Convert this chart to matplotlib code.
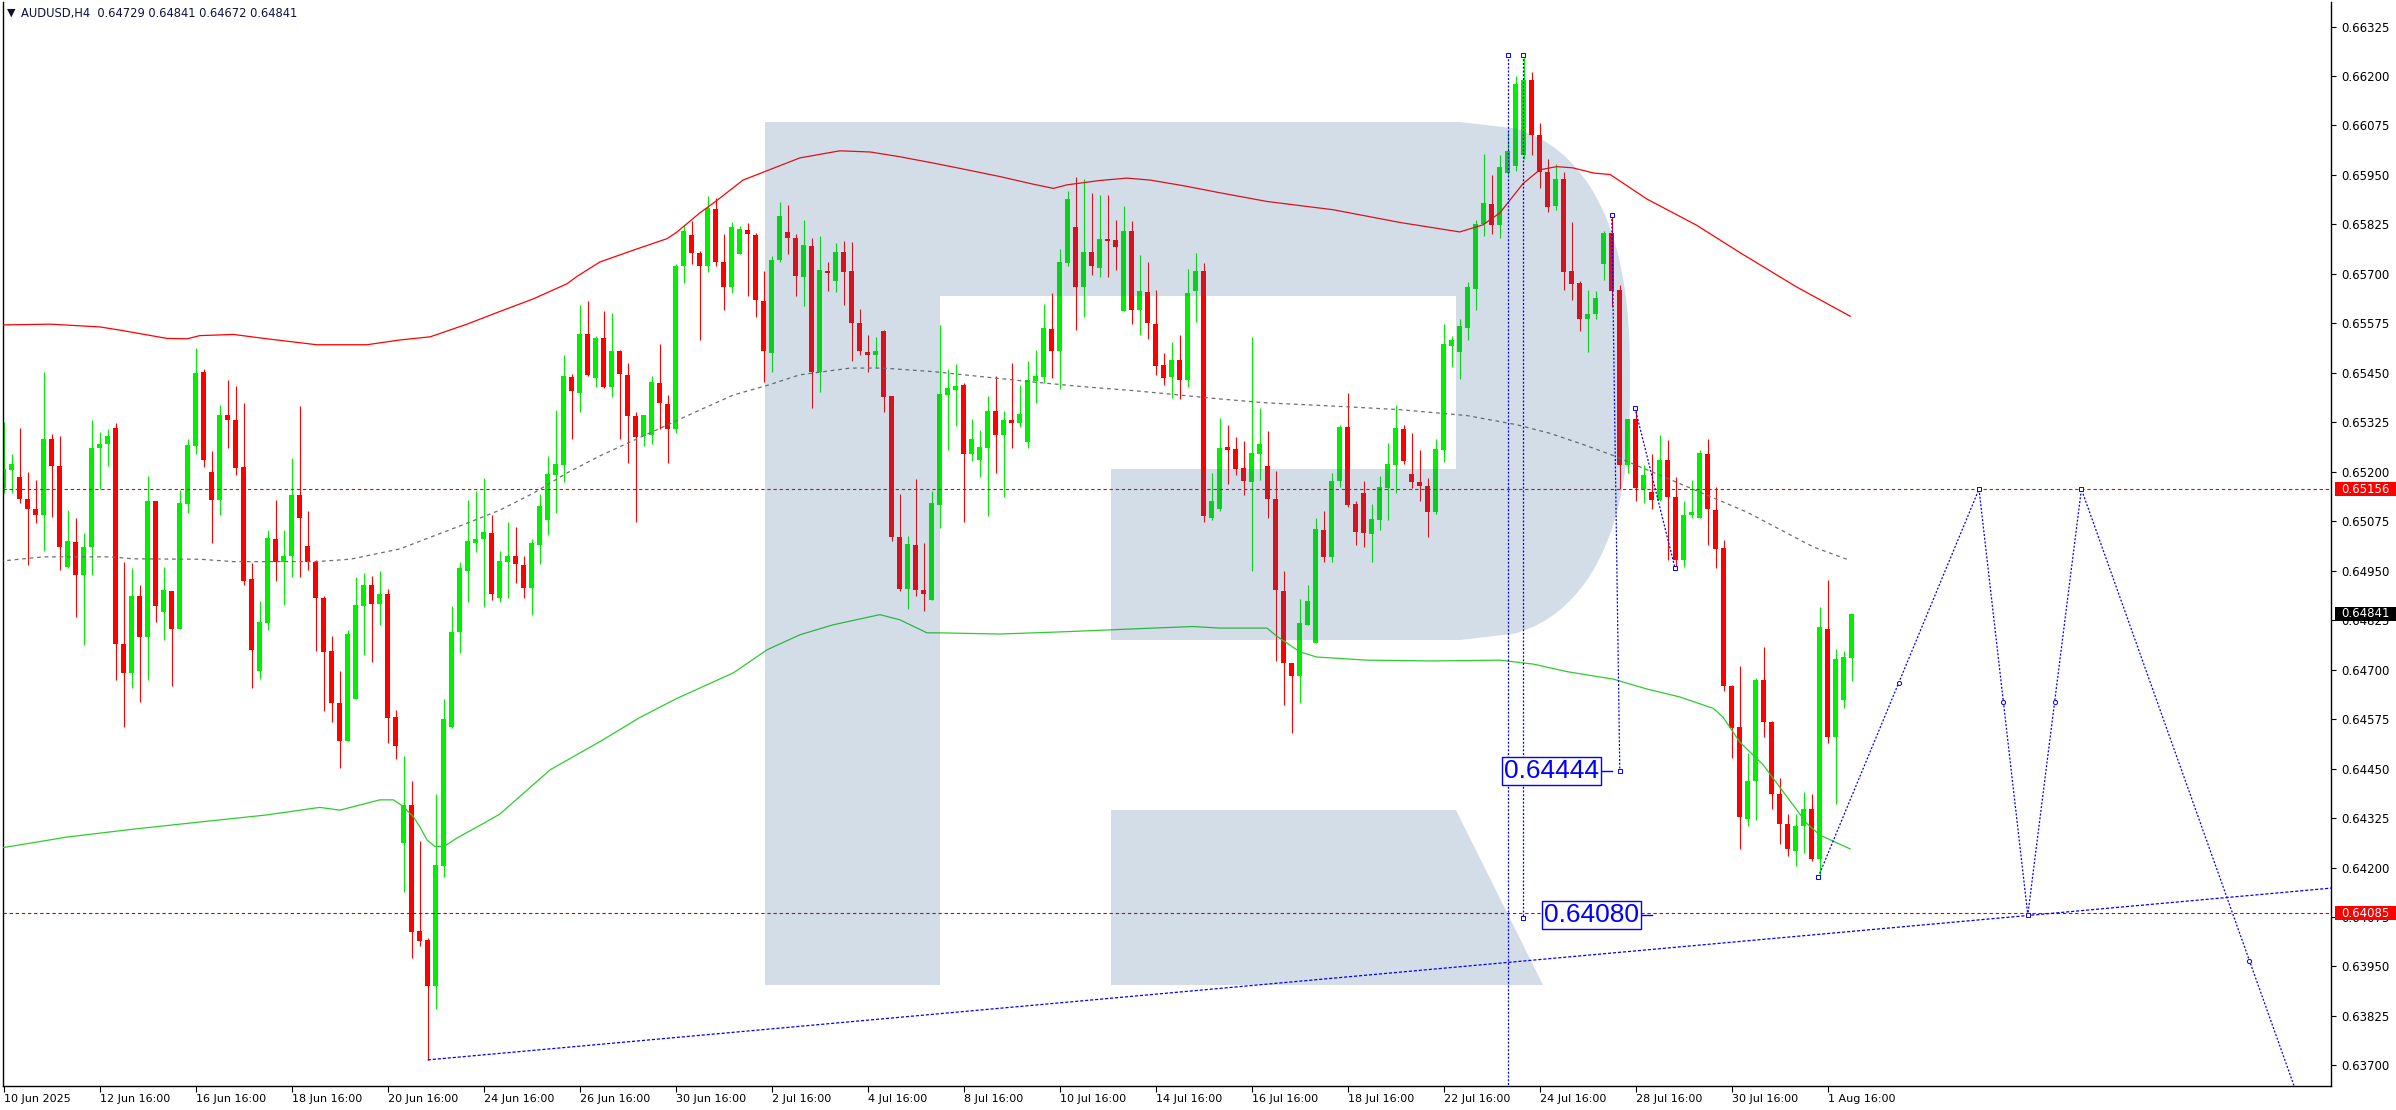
import matplotlib
matplotlib.use("Agg")
import matplotlib.pyplot as plt
import numpy as np
from matplotlib.path import Path
from matplotlib.patches import PathPatch, Rectangle
from matplotlib.transforms import Affine2D, blended_transform_factory

W, H = 2396, 1110
plt.rcParams['font.family'] = ['DejaVu Sans']

header_text = "AUDUSD,H4  0.64729 0.64841 0.64672 0.64841"

open_ = [0.65158,0.65204,0.65187,0.65132,0.65106,0.65092,0.65283,0.65215,0.64959,0.65023,
 0.64938,0.65009,0.65259,0.65270,0.65311,0.64765,0.64691,0.64887,0.64782,0.65127,
 0.64845,0.64900,0.64803,0.65118,0.65265,0.65453,0.65200,0.65128,0.65344,0.65331,
 0.65213,0.64928,0.64696,0.64819,0.65031,0.64971,0.64987,0.65142,0.65013,0.64973,
 0.64881,0.64746,0.64617,0.64520,0.64625,0.64860,0.64915,0.64867,0.64891,0.64581,
 0.64263,0.64358,0.64040,0.64017,0.63901,0.64205,0.64556,0.64794,0.64950,0.65021,
 0.65029,0.65046,0.64880,0.64973,0.64988,0.64965,0.64907,0.65016,0.65077,0.65193,
 0.65218,0.65440,0.65400,0.65549,0.65438,0.65538,0.65413,0.65506,0.65445,0.65342,
 0.65291,0.65292,0.65425,0.65372,0.65309,0.65719,0.65799,0.65754,0.65721,0.65864,
 0.65731,0.65666,0.65749,0.65811,0.65799,0.65632,0.65501,0.65734,0.65806,0.65791,
 0.65693,0.65771,0.65453,0.65708,0.65681,0.65756,0.65708,0.65576,0.65503,0.65494,
 0.65556,0.65392,0.65036,0.64905,0.65015,0.64902,0.64875,0.65117,0.65395,0.65407,
 0.65418,0.65244,0.65231,0.65261,0.65354,0.65293,0.65331,0.65322,0.65274,0.65430,
 0.65440,0.65561,0.65504,0.65728,0.65819,0.65668,0.65756,0.65716,0.65789,0.65786,
 0.65607,0.65809,0.65609,0.65655,0.65574,0.65470,0.65440,0.65483,0.65431,0.65657,
 0.65708,0.65084,0.65107,0.65263,0.65257,0.65209,0.65174,0.65246,0.65214,0.65131,
 0.64899,0.64718,0.64683,0.64814,0.64767,0.65052,0.64984,0.65176,0.65313,0.65119,
 0.65147,0.65044,0.65079,0.65159,0.65216,0.65308,0.65195,0.65174,0.65164,0.65099,
 0.65254,0.65519,0.65502,0.65564,0.65663,0.65826,0.65876,0.65823,0.65955,0.65973,
 0.66000,0.66190,0.66050,0.65957,0.65871,0.65941,0.65707,0.65677,0.65586,0.65598,
 0.65725,0.65803,0.65659,0.65217,0.65334,0.65156,0.65149,0.65128,0.65230,0.65135,
 0.64976,0.65092,0.65084,0.65245,0.65103,0.65007,0.64659,0.64554,0.64323,0.64419,
 0.64673,0.64567,0.64385,0.64311,0.64242,0.64304,0.64349,0.64222,0.64802,0.64531,
 0.64624,0.64729]

high_ = [0.65326,0.65245,0.65311,0.65200,0.65179,0.65452,0.65296,0.65290,0.65104,0.65084,
 0.65046,0.65331,0.65301,0.65309,0.65322,0.64971,0.64958,0.64915,0.65190,0.65127,
 0.64960,0.64900,0.65153,0.65283,0.65514,0.65460,0.65252,0.65369,0.65432,0.65417,
 0.65374,0.64969,0.64874,0.65052,0.65129,0.65053,0.65235,0.65366,0.65102,0.64976,
 0.64886,0.64786,0.64697,0.64801,0.64935,0.64944,0.64936,0.64950,0.64905,0.64599,
 0.64482,0.64419,0.64267,0.64021,0.64386,0.64626,0.64861,0.64972,0.65129,0.65152,
 0.65185,0.65091,0.65001,0.65074,0.65061,0.64988,0.65030,0.65144,0.65239,0.65357,
 0.65496,0.65448,0.65622,0.65632,0.65544,0.65607,0.65602,0.65508,0.65474,0.65351,
 0.65344,0.65442,0.65523,0.65395,0.65726,0.65824,0.65833,0.65757,0.65898,0.65891,
 0.65800,0.65832,0.65820,0.65829,0.65804,0.65708,0.65746,0.65882,0.65873,0.65801,
 0.65837,0.65790,0.65795,0.65731,0.65779,0.65784,0.65781,0.65612,0.65545,0.65541,
 0.65559,0.65392,0.65144,0.65038,0.65181,0.65020,0.65152,0.65571,0.65460,0.65473,
 0.65424,0.65334,0.65306,0.65392,0.65442,0.65354,0.65476,0.65420,0.65480,0.65508,
 0.65624,0.65651,0.65763,0.65910,0.65946,0.65940,0.65905,0.65900,0.65900,0.65837,
 0.65872,0.65834,0.65747,0.65731,0.65660,0.65501,0.65528,0.65546,0.65713,0.65753,
 0.65727,0.65198,0.65336,0.65319,0.65288,0.65277,0.65541,0.65362,0.65302,0.65202,
 0.64949,0.64718,0.64878,0.64914,0.65082,0.65101,0.65196,0.65319,0.65399,0.65125,
 0.65177,0.65119,0.65189,0.65273,0.65369,0.65319,0.65298,0.65255,0.65184,0.65282,
 0.65574,0.65544,0.65586,0.65680,0.65835,0.66003,0.65951,0.66000,0.66060,0.66200,
 0.66250,0.66210,0.66080,0.65990,0.65978,0.65958,0.65830,0.65683,0.65660,0.65656,
 0.65808,0.65848,0.65671,0.65334,0.65355,0.65217,0.65245,0.65292,0.65280,0.65187,
 0.65125,0.65180,0.65255,0.65282,0.65162,0.65027,0.64662,0.64709,0.64489,0.64679,
 0.64756,0.64571,0.64425,0.64335,0.64335,0.64392,0.64385,0.64858,0.64926,0.64751,
 0.64748,0.64841]

low_ = [0.65147,0.65146,0.65120,0.64964,0.65070,0.65000,0.65085,0.64953,0.64958,0.64833,
 0.64763,0.64940,0.65157,0.65214,0.64675,0.64554,0.64653,0.64618,0.64675,0.64820,
 0.64776,0.64659,0.64803,0.65097,0.65245,0.65212,0.65019,0.65090,0.65260,0.65193,
 0.64914,0.64653,0.64676,0.64799,0.64923,0.64863,0.64933,0.64933,0.64953,0.64747,
 0.64596,0.64567,0.64451,0.64520,0.64625,0.64736,0.64719,0.64812,0.64514,0.64475,
 0.64139,0.63971,0.64002,0.63714,0.63843,0.64177,0.64552,0.64743,0.64870,0.64998,
 0.64859,0.64875,0.64870,0.64882,0.64918,0.64880,0.64838,0.64968,0.65040,0.65095,
 0.65175,0.65282,0.65350,0.65441,0.65413,0.65412,0.65390,0.65284,0.65221,0.65074,
 0.65266,0.65270,0.65309,0.65221,0.65299,0.65676,0.65726,0.65532,0.65704,0.65719,
 0.65610,0.65651,0.65749,0.65643,0.65591,0.65426,0.65451,0.65731,0.65749,0.65645,
 0.65618,0.65362,0.65401,0.65656,0.65653,0.65622,0.65481,0.65494,0.65453,0.65462,
 0.65352,0.65024,0.64900,0.64854,0.64885,0.64847,0.64875,0.65057,0.65255,0.65316,
 0.65072,0.65228,0.65188,0.65089,0.65198,0.65137,0.65261,0.65312,0.65259,0.65375,
 0.65424,0.65438,0.65410,0.65721,0.65557,0.65592,0.65698,0.65693,0.65691,0.65710,
 0.65607,0.65574,0.65546,0.65536,0.65445,0.65418,0.65386,0.65385,0.65415,0.65579,
 0.65072,0.65077,0.65100,0.65169,0.65192,0.65141,0.64949,0.65179,0.65082,0.64721,
 0.64610,0.64539,0.64616,0.64814,0.64767,0.64971,0.64971,0.65161,0.65111,0.65016,
 0.65011,0.64971,0.65054,0.65079,0.65146,0.65219,0.65158,0.65126,0.65034,0.65094,
 0.65224,0.65464,0.65434,0.65534,0.65610,0.65795,0.65801,0.65790,0.65950,0.65960,
 0.65990,0.66000,0.65918,0.65856,0.65861,0.65660,0.65633,0.65556,0.65503,0.65587,
 0.65685,0.65616,0.65156,0.65196,0.65125,0.65120,0.65106,0.65125,0.64978,0.64953,
 0.64960,0.65084,0.65084,0.65014,0.64957,0.64645,0.64477,0.64247,0.64304,0.64321,
 0.64531,0.64347,0.64259,0.64229,0.64205,0.64237,0.64216,0.64176,0.64514,0.64361,
 0.64602,0.64672]

close_ = [0.65207,0.65220,0.65131,0.65105,0.65092,0.65283,0.65214,0.65009,0.65025,0.64938,
 0.65010,0.65260,0.65271,0.65290,0.64764,0.64691,0.64887,0.64782,0.65127,0.64860,
 0.64902,0.64803,0.65121,0.65268,0.65449,0.65230,0.65128,0.65344,0.65330,0.65210,
 0.64925,0.64749,0.64821,0.65033,0.64971,0.64988,0.65142,0.65082,0.64972,0.64880,
 0.64745,0.64616,0.64520,0.64791,0.64864,0.64915,0.64866,0.64892,0.64579,0.64507,
 0.64358,0.64038,0.64015,0.63901,0.64206,0.64575,0.64796,0.64956,0.65025,0.65030,
 0.65049,0.64890,0.64975,0.64988,0.64966,0.64907,0.65020,0.65114,0.65195,0.65220,
 0.65442,0.65403,0.65549,0.65445,0.65538,0.65414,0.65506,0.65446,0.65340,0.65287,
 0.65344,0.65427,0.65373,0.65309,0.65720,0.65809,0.65752,0.65721,0.65867,0.65729,
 0.65666,0.65819,0.65814,0.65800,0.65633,0.65504,0.65736,0.65847,0.65790,0.65694,
 0.65774,0.65453,0.65710,0.65701,0.65756,0.65706,0.65577,0.65504,0.65496,0.65506,
 0.65390,0.65036,0.64904,0.65018,0.64902,0.64890,0.65121,0.65397,0.65412,0.65417,
 0.65244,0.65283,0.65263,0.65354,0.65294,0.65331,0.65324,0.65346,0.65432,0.65442,
 0.65564,0.65506,0.65731,0.65890,0.65668,0.65756,0.65719,0.65789,0.65784,0.65769,
 0.65809,0.65609,0.65657,0.65575,0.65466,0.65438,0.65483,0.65431,0.65652,0.65708,
 0.65087,0.65127,0.65261,0.65256,0.65208,0.65176,0.65247,0.65269,0.65131,0.64901,
 0.64718,0.64683,0.64818,0.64873,0.65055,0.64984,0.65176,0.65313,0.65116,0.65049,
 0.65046,0.65081,0.65162,0.65220,0.65311,0.65228,0.65173,0.65164,0.65099,0.65258,
 0.65523,0.65533,0.65569,0.65667,0.65826,0.65879,0.65824,0.65970,0.66010,0.66180,
 0.66190,0.66050,0.65958,0.65870,0.65941,0.65705,0.65675,0.65587,0.65598,0.65640,
 0.65803,0.65658,0.65217,0.65334,0.65159,0.65192,0.65128,0.65230,0.65135,0.64976,
 0.65092,0.65098,0.65248,0.65105,0.65004,0.64658,0.64552,0.64327,0.64419,0.64675,
 0.64568,0.64386,0.64310,0.64247,0.64305,0.64349,0.64222,0.64807,0.64531,0.64726,
 0.64731,0.64841]

# indicator lines (bar position, price)
upper_x = [-0.5,5.8,12.0,14.5,20.4,22.9,24.5,28.7,32.9,39.1,45.4,49.5,53.3,57.9,62.0,66.2,70.4,71.6,74.5,78.7,
           82.9,84.1,87.0,89.1,92.4,99.5,104.5,108.3,112.0,116.2,120.4,124.5,128.6,131.2,132.9,137.0,140.4,143.3,147.4,152.0,
           157.9,166.2,174.5,182.0,184.9,187.0,189.9,192.0,194.1,196.1,198.7,200.8,205.4,211.6,217.0,224.1,230.8]
upper_y = [0.65571,0.65573,0.65566,0.65558,0.65537,0.65536,0.65544,0.65547,0.65536,0.65521,0.65521,0.65533,0.65541,0.65573,0.65605,0.65637,0.65675,0.65693,0.65730,0.65760,
           0.65789,0.65805,0.65854,0.65885,0.65937,0.65993,0.66011,0.66008,0.65996,0.65980,0.65963,0.65946,0.65927,0.65916,0.65925,0.65936,0.65942,0.65937,0.65923,0.65905,
           0.65883,0.65862,0.65830,0.65806,0.65824,0.65854,0.65928,0.65963,0.65971,0.65968,0.65955,0.65951,0.65889,0.65823,0.65754,0.65667,0.65593]
mid_x = [-0.5,4.9,13.3,16.2,24.5,28.7,39.1,43.3,49.5,57.9,62.0,66.2,70.4,74.5,78.7,82.9,87.0,91.2,95.4,99.5,
         105.8,109.9,116.2,122.4,128.6,134.9,141.2,145.4,152.0,157.9,166.2,174.5,182.9,189.1,193.3,197.4,201.2,209.5,217.9,226.2,230.5]
mid_y = [0.64974,0.64985,0.64985,0.64980,0.64979,0.64973,0.64973,0.64979,0.65005,0.65070,0.65103,0.65146,0.65197,0.65240,0.65279,0.65318,0.65356,0.65394,0.65418,0.65445,
         0.65462,0.65462,0.65453,0.65440,0.65427,0.65415,0.65405,0.65397,0.65384,0.65374,0.65366,0.65357,0.65342,0.65319,0.65297,0.65269,0.65241,0.65170,0.65098,0.65010,0.64978]
lower_x = [-0.5,7.9,16.2,24.5,32.9,39.5,42.0,47.0,48.7,49.9,51.2,52.0,52.9,53.9,55.1,56.6,58.3,60.0,62.0,68.3,
           74.5,79.5,84.1,91.2,95.4,99.5,103.6,109.5,112.0,115.4,117.0,124.5,132.9,141.2,148.6,152.0,157.9,159.1,162.0,164.1,
           170.4,178.7,187.0,191.2,195.4,201.2,205.4,209.5,213.7,214.9,217.0,219.9,222.0,225.4,227.0,230.8]
lower_y = [0.64249,0.64277,0.64297,0.64315,0.64333,0.64352,0.64345,0.64371,0.64371,0.64355,0.64328,0.64303,0.64270,0.64253,0.64254,0.64274,0.64293,0.64312,0.64335,0.64447,
           0.64518,0.64579,0.64627,0.64692,0.64750,0.64788,0.64813,0.64839,0.64826,0.64793,0.64793,0.64790,0.64796,0.64803,0.64809,0.64805,0.64805,0.64785,0.64745,0.64732,
           0.64724,0.64722,0.64724,0.64714,0.64695,0.64676,0.64651,0.64631,0.64602,0.64580,0.64517,0.64460,0.64403,0.64311,0.64282,0.64247]

# horizontal levels
level_resist = 0.65156
level_support = 0.64085
last_price = 0.64841

# drawn objects (bar, price)
forecast_x = [226.8, 246.9, 253.0, 259.7, 301.7]
forecast_y = [0.64176, 0.65156, 0.64080, 0.65156, 0.62774]
trend_x = [53.0, 290.9]
trend_y = [0.63714, 0.64148]
vline1_x = [188.0, 188.0]
vline1_y = [0.66253, 0.63500]
vline2_x = [189.9, 189.9]
vline2_y = [0.66253, 0.64073]
line3_x = [201.0, 202.0]
line3_y = [0.65848, 0.64444]
line4_x = [203.9, 208.9]
line4_y = [0.65361, 0.64957]
label_a = ("0.64444", 193.5, 0.64444, [199.8, 201.0])
label_b = ("0.64080", 198.5, 0.64080, [204.8, 206.0])

date_tick_bars = [0, 12, 24, 36, 48, 60, 72, 84, 96, 108, 120, 132, 144, 156, 168, 180, 192, 204, 216, 228]
date_tick_labels = ["10 Jun 2025", "12 Jun 16:00", "16 Jun 16:00", "18 Jun 16:00", "20 Jun 16:00",
                    "24 Jun 16:00", "26 Jun 16:00", "30 Jun 16:00", "2 Jul 16:00", "4 Jul 16:00",
                    "8 Jul 16:00", "10 Jul 16:00", "14 Jul 16:00", "16 Jul 16:00", "18 Jul 16:00",
                    "22 Jul 16:00", "24 Jul 16:00", "28 Jul 16:00", "30 Jul 16:00", "1 Aug 16:00"]
price_tick_labels = ["0.66325", "0.66200", "0.66075", "0.65950", "0.65825", "0.65700", "0.65575",
                     "0.65450", "0.65325", "0.65200", "0.65075", "0.64950", "0.64825", "0.64700",
                     "0.64575", "0.64450", "0.64325", "0.64200", "0.64075", "0.63950", "0.63825", "0.63700"]

GREEN = '#00ee00'
RED = '#ff0000'
BLUE = '#0000ff'

fig = plt.figure(figsize=(W / 100, H / 100), dpi=100, facecolor='white')
ax = fig.add_axes([3 / W, 24 / H, 2328 / W, 1084 / H])
ax.set_facecolor('white')
ax.set_xlim(-0.1, 290.9)
ax.set_ylim(0.63648, 0.66387)
ppx = (0.66387 - 0.63648) / 1084.0

# candles
o = np.array(open_); h = np.array(high_); l = np.array(low_); c = np.array(close_)
idx = np.arange(len(o))
cols = np.where(c >= o, GREEN, RED)
ax.vlines(idx, l, h, colors=cols, lw=0.8, zorder=2)
body = np.maximum(np.abs(c - o), ppx * 1.0)
ax.bar(idx, body, bottom=np.minimum(o, c), width=0.625, color=cols, linewidth=0, zorder=2.5)

# indicators
ax.plot(upper_x, upper_y, color='#ff0000', lw=0.9, zorder=3)
ax.plot(mid_x, mid_y, color='#6e6e6e', lw=0.9, ls=(0, (3, 3)), zorder=3)
ax.plot(lower_x, lower_y, color='#2ecc2e', lw=0.9, zorder=3)

# horizontal levels
ax.axhline(level_resist, color='#ee0000', lw=0.8, ls=(0, (3, 2.5)), zorder=3)
ax.axhline(level_support, color='#cc0000', lw=0.8, ls=(0, (3, 2.5)), zorder=3)

# logo (decorative), drawn in image pixel coordinates on top with transparency
pix = Affine2D().scale(1.0 / W, -1.0 / H).translate(0, 1) + fig.transFigure
ts = np.linspace(-1, 1, 80)
arc = [(1460 + 170 * (1 - abs(t) ** 2.5) ** 0.4, 381 + 259 * t) for t in ts]
outer = [(765, 122), (1460, 122)] + arc + [(1460, 640), (1111, 640), (1111, 469), (1456, 469),
                                           (1456, 296), (940, 296), (940, 985), (765, 985), (765, 122)]
leg = [(1111, 810), (1456, 810), (1543, 985), (1111, 985), (1111, 810)]
verts = outer + leg
codes = [Path.MOVETO] + [Path.LINETO] * (len(outer) - 2) + [Path.CLOSEPOLY] + \
        [Path.MOVETO] + [Path.LINETO] * 3 + [Path.CLOSEPOLY]
logo = PathPatch(Path(verts, codes), transform=pix, facecolor=(48 / 255, 95 / 255, 148 / 255, 0.21),
                 edgecolor='none', zorder=4)
ax.add_patch(logo)

# blue drawn objects
dot = (0, (1.6, 1.4))
ax.plot(forecast_x, forecast_y, color=BLUE, lw=0.9, ls=dot, zorder=6)
fx = np.array(forecast_x); fy = np.array(forecast_y)
ax.plot((fx[:-1] + fx[1:]) / 2, (fy[:-1] + fy[1:]) / 2, ls='none', marker='o', ms=3,
        mfc='white', mec=BLUE, mew=0.7, zorder=7)
ax.plot(fx[:-1], fy[:-1], ls='none', marker='s', ms=3, mfc='white', mec=BLUE, mew=0.7, zorder=7)
ax.plot(trend_x, trend_y, color=BLUE, lw=0.9, ls=(0, (2.5, 1.5)), zorder=6)
for xs, ys in [(vline1_x, vline1_y), (vline2_x, vline2_y), (line3_x, line3_y), (line4_x, line4_y)]:
    ax.plot(xs, ys, color=BLUE, lw=0.9, ls=dot, zorder=6)
    ax.plot(xs, ys, ls='none', marker='s', ms=3, mfc='white', mec=BLUE, mew=0.7, zorder=7)

for txt, bx, py, tick in [label_a, label_b]:
    ax.text(bx, py, txt, color=BLUE, fontsize=19, family=['Liberation Sans', 'DejaVu Sans'],
            ha='center', va='center', zorder=8,
            bbox=dict(boxstyle='square,pad=0.08', fc='white', ec=BLUE, lw=1.0))
    ax.plot(tick, [py, py], color=BLUE, lw=1.0, zorder=8)

# axes styling
ax.spines['top'].set_visible(False)
for s in ['left', 'right', 'bottom']:
    ax.spines[s].set_color('black')
    ax.spines[s].set_linewidth(1.0)

ax.yaxis.tick_right()
ax.set_yticks([float(v) for v in price_tick_labels])
ax.set_yticklabels(price_tick_labels)
ax.tick_params(axis='y', direction='out', length=3.5, width=0.8, pad=4, labelsize=8.5, colors='black')
ax.set_xticks(date_tick_bars)
ax.set_xticklabels(date_tick_labels)
ax.tick_params(axis='x', direction='out', length=4, width=0.8, pad=1.5, labelsize=8, colors='black')
for lbl in ax.get_xticklabels():
    lbl.set_ha('left')

# price boxes on the right axis
bt = blended_transform_factory(fig.transFigure, ax.transData)
for val, fc in [(level_resist, '#ff0000'), (last_price, '#000000'), (level_support, '#ff0000')]:
    ax.add_patch(Rectangle((2335 / W, val - 7 * ppx), 61 / W, 14 * ppx, transform=bt,
                           facecolor=fc, edgecolor='none', clip_on=False, zorder=10))
    ax.text(2341 / W, val, f"{val:.5f}", transform=bt, color='white', fontsize=8.5,
            ha='left', va='center', zorder=11, clip_on=False)

# header
fig.text(7 / W, 1 - 13 / H, "\u25BC", fontsize=8, color='#101030', va='center', ha='left')
fig.text(21 / W, 1 - 13 / H, header_text, fontsize=8.3, color='#101040', va='center', ha='left')

fig.savefig('out.png', dpi=100, facecolor='white')
